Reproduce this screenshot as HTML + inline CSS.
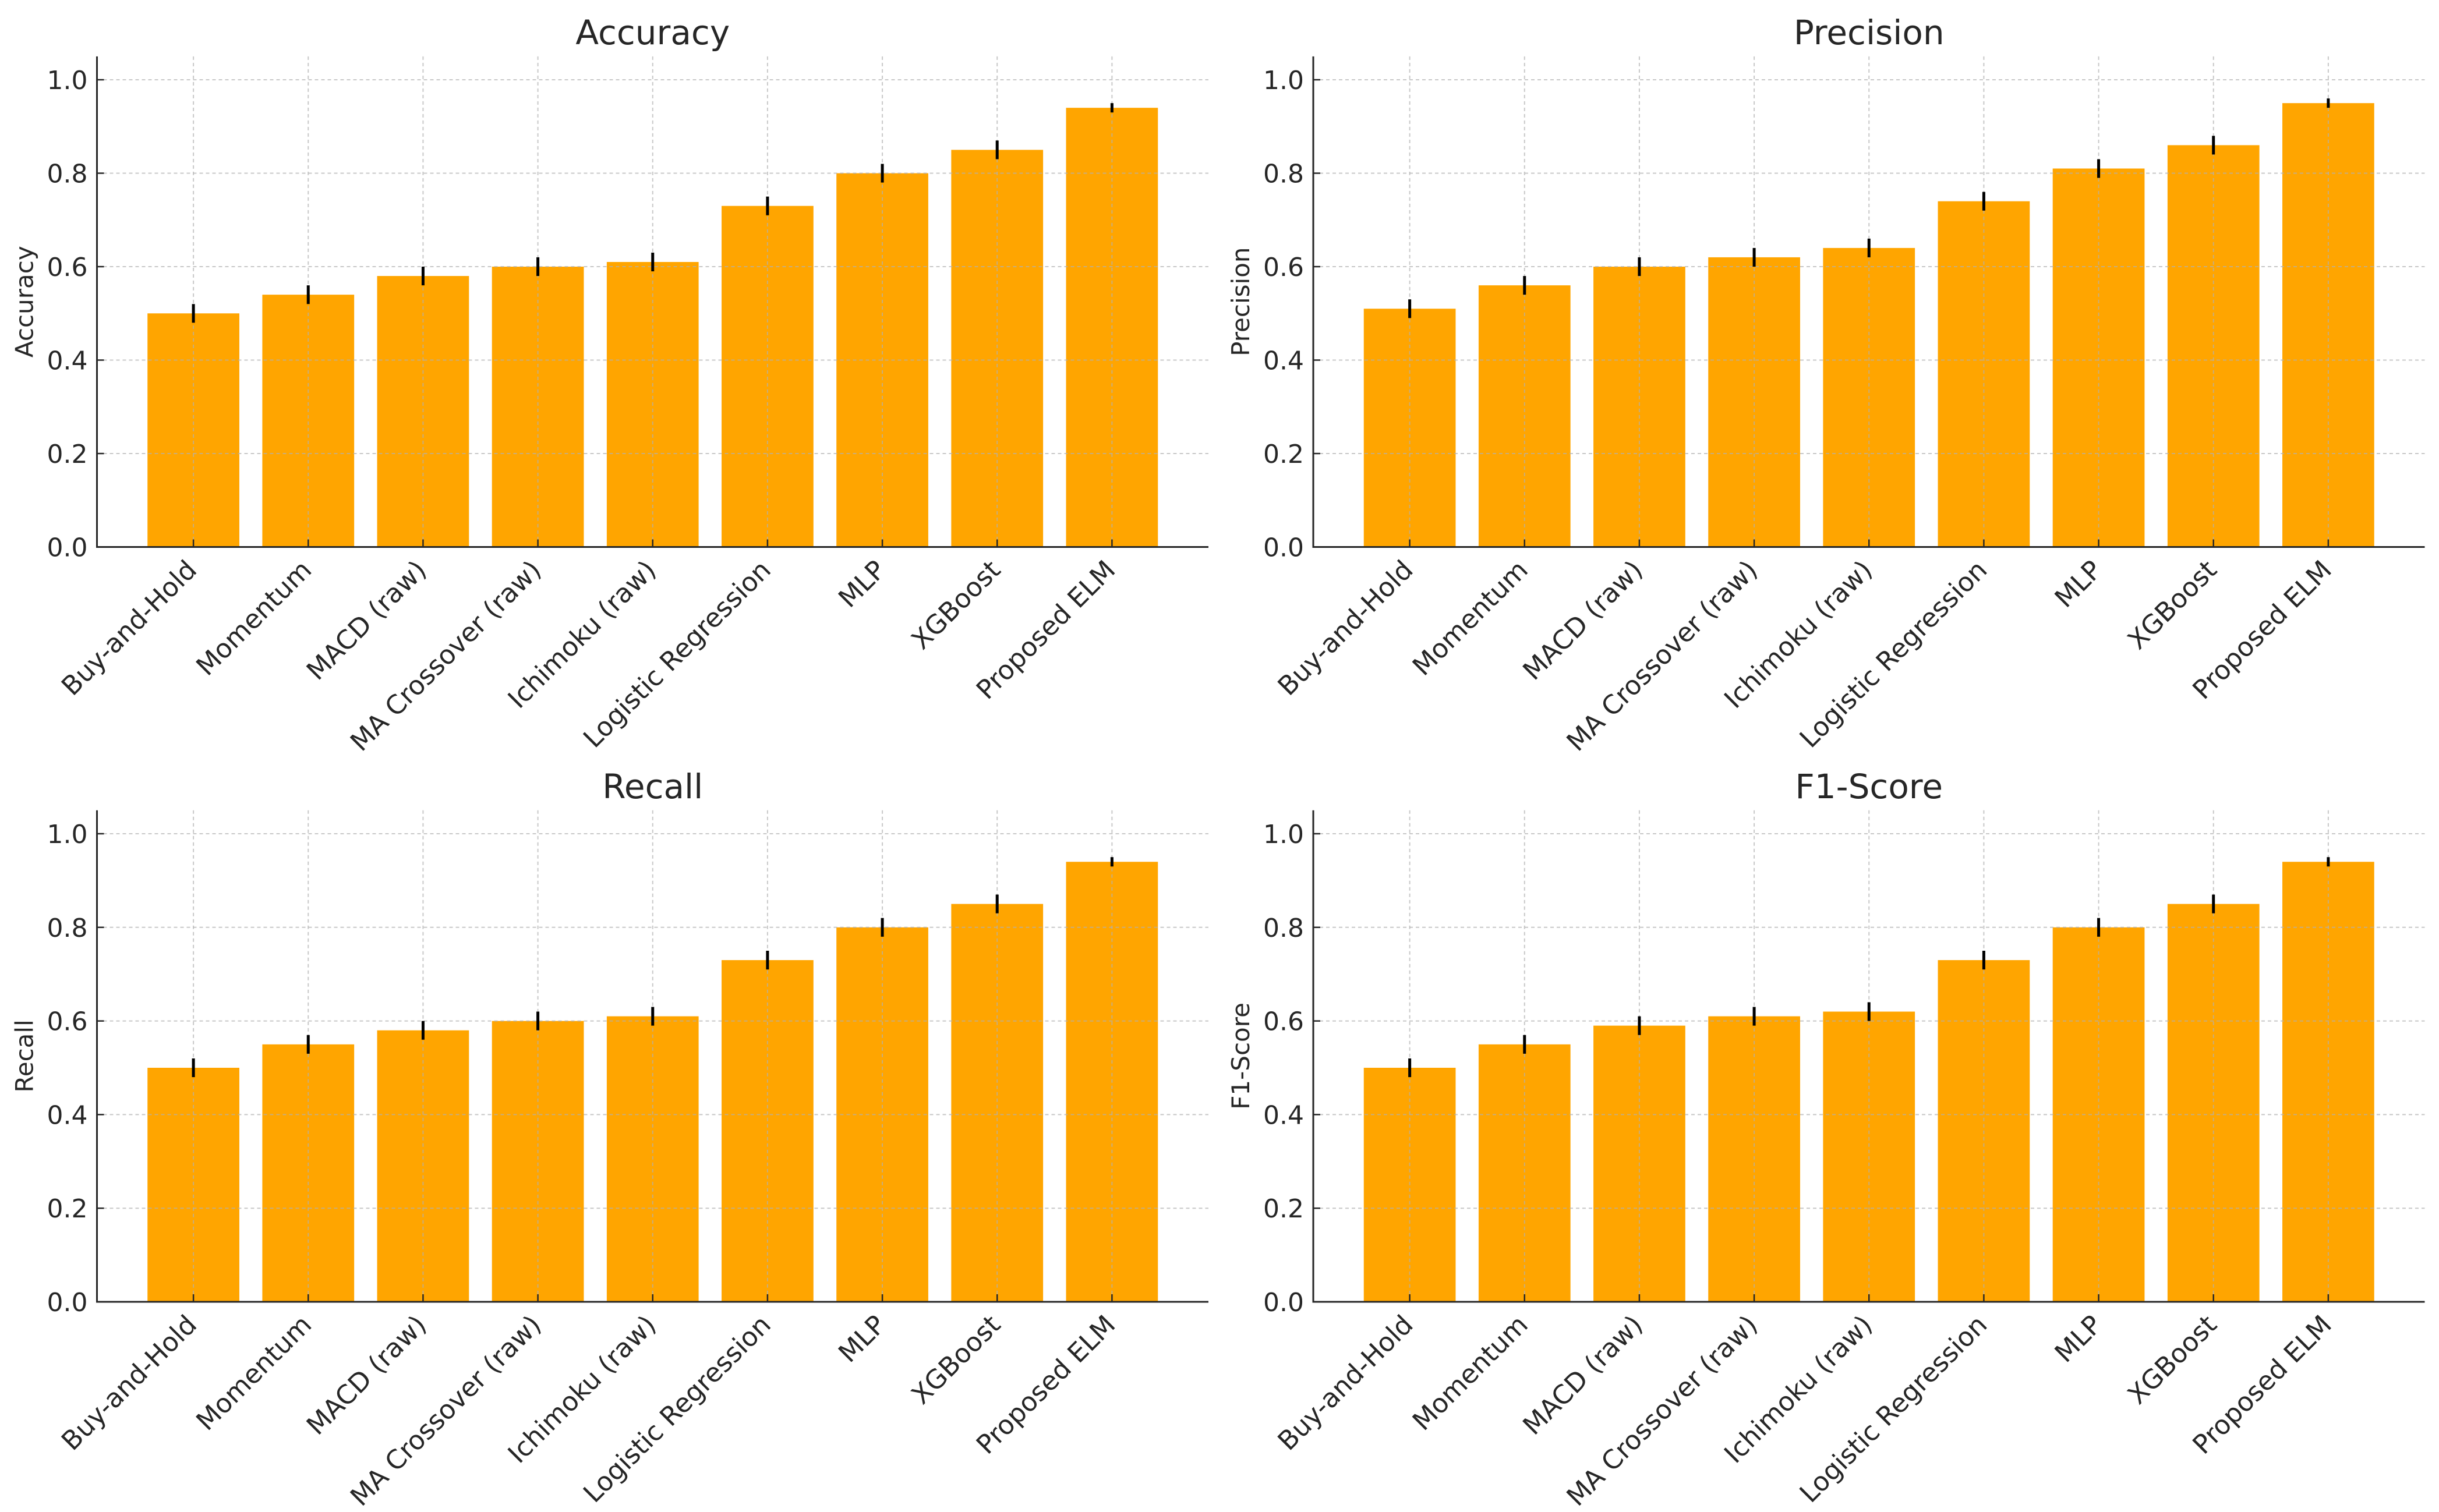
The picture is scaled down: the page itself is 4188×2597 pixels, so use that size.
<!DOCTYPE html>
<html><head><meta charset="utf-8"><style>
html,body{margin:0;padding:0;background:#fff}
svg{display:block}
text{font-family:"DejaVu Sans","Liberation Sans",sans-serif;fill:#262626}
</style></head><body>
<svg id="fig" width="4188" height="2597" viewBox="0 0 4188 2597" xmlns="http://www.w3.org/2000/svg"></svg>
<script>
const categories = ["Buy-and-Hold","Momentum","MACD (raw)","MA Crossover (raw)","Ichimoku (raw)","Logistic Regression","MLP","XGBoost","Proposed ELM"];
const accuracyValues = [0.50,0.54,0.58,0.60,0.61,0.73,0.80,0.85,0.94];
const precisionValues = [0.51,0.56,0.60,0.62,0.64,0.74,0.81,0.86,0.95];
const recallValues = [0.50,0.55,0.58,0.60,0.61,0.73,0.80,0.85,0.94];
const f1Values = [0.50,0.55,0.59,0.61,0.62,0.73,0.80,0.85,0.94];
const errorValues = [0.02,0.02,0.02,0.02,0.02,0.02,0.02,0.02,0.01];
const yTickLabels = ["0.0","0.2","0.4","0.6","0.8","1.0"];
const panelTitles = ["Accuracy","Precision","Recall","F1-Score"];

const NS = "http://www.w3.org/2000/svg";
const svg = document.getElementById('fig');
function mk(tag, attrs, parent){const e=document.createElementNS(NS,tag);for(const k in attrs)e.setAttribute(k,attrs[k]);(parent||svg).appendChild(e);return e;}

const panels = [
  {vals:accuracyValues, x0:166.5, y0:939.5, y1:137},
  {vals:precisionValues, x0:2255, y0:939.5, y1:137},
  {vals:recallValues, x0:166.5, y0:2236, y1:1432},
  {vals:f1Values, x0:2255, y0:2236, y1:1432}
];
const XW = 1908.5;
panels.forEach((p,pi)=>{
  const g = mk('g',{});
  
  
  const unit = XW/9.68;
  const xs = i => p.x0 + (i+0.84)*unit;
  const ys = v => p.y0 - v*(p.y0-p.y1);
  const top = ys(1.05);
  p.vals.forEach((v,i)=>{
    const r = mk('rect',{x:xs(i)-0.4*unit,y:ys(v),width:0.8*unit,height:p.y0-ys(v),fill:'#FFA500'},g);
    
    
  });
  yTickLabels.forEach((t,k)=>{
    const v = parseFloat(t);
    const l = mk('line',{x1:p.x0,x2:p.x0+XW,y1:ys(v),y2:ys(v),stroke:'#b0b0b0','stroke-opacity':0.7,'stroke-width':2,'stroke-dasharray':'6 5'},g);
    
    
  });
  categories.forEach((c,i)=>{
    const l = mk('line',{x1:xs(i),x2:xs(i),y1:top,y2:p.y0,stroke:'#b0b0b0','stroke-opacity':0.7,'stroke-width':2,'stroke-dasharray':'6 5'},g);
    
    
  });
  p.vals.forEach((v,i)=>{
    const e = errorValues[i];
    const l = mk('line',{x1:xs(i),x2:xs(i),y1:ys(v-e),y2:ys(v+e),stroke:'#000','stroke-width':5},g);
    
    
  });
  const sl = mk('line',{x1:p.x0,x2:p.x0,y1:top,y2:p.y0+1.5,stroke:'#262626','stroke-width':3},g);
  
  
  const sb = mk('line',{x1:p.x0-1.5,x2:p.x0+XW,y1:p.y0,y2:p.y0,stroke:'#262626','stroke-width':3},g);
  
  
  yTickLabels.forEach(t=>{
    const v=parseFloat(t);
    mk('line',{x1:p.x0,x2:p.x0+12,y1:ys(v),y2:ys(v),stroke:'#262626','stroke-width':2.5},g);
    const tx = mk('text',{x:p.x0-16,y:ys(v)+16,'text-anchor':'end','font-size':44},g);
    tx.textContent=t;
    
    
  });
  categories.forEach((c,i)=>{
    mk('line',{x1:xs(i),x2:xs(i),y1:p.y0,y2:p.y0-13,stroke:'#262626','stroke-width':2.5},g);
    const tx = mk('text',{transform:`translate(${xs(i)-16},${p.y0+18}) rotate(-45)`,'text-anchor':'end','font-size':45,dy:'0.76em'},g);
    tx.textContent=c;
    
    
  });
  const yl = mk('text',{transform:`translate(${p.x0-110},${(top+p.y0)/2}) rotate(-90)`,'text-anchor':'middle','font-size':42},g);
  yl.textContent = panelTitles[pi];
  
  
  const tt = mk('text',{x:p.x0+XW/2,y:top-21,'text-anchor':'middle','font-size':58},g);
  tt.textContent = panelTitles[pi];
  
  
});
</script>
</body></html>
